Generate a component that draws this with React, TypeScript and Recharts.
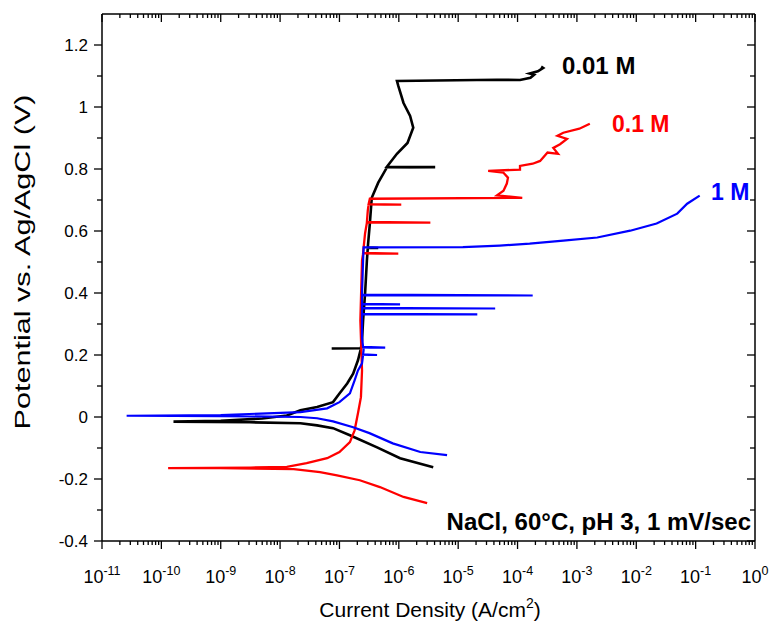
import { LineChart, Line, XAxis, YAxis } from "recharts";

// [current density (A/cm2), potential (V vs Ag/AgCl)]
type Pt = [number, number];

const FONT = "'Liberation Sans', Arial, sans-serif";

const naCl001: Pt[] = [
  [3.8e-6, -0.162], [1.05e-6, -0.133], [4.3e-7, -0.098], [1.5e-7, -0.059],
  [7.8e-8, -0.036], [4.2e-8, -0.027], [2.2e-8, -0.02], [3.1e-9, -0.017],
  [1.6e-10, -0.015], [1.0e-9, -0.012], [5.0e-9, -0.005], [1.3e-8, 0.005],
  [2.2e-8, 0.022], [4.2e-8, 0.032], [7.8e-8, 0.048], [1.0e-7, 0.076],
  [1.35e-7, 0.108], [1.7e-7, 0.14], [2.05e-7, 0.183], [2.3e-7, 0.221],
  [7.4e-8, 0.221], [2.3e-7, 0.222], [2.4e-7, 0.247], [2.5e-7, 0.311],
  [2.7e-7, 0.398], [2.9e-7, 0.505], [3.0e-7, 0.545], [4.5e-7, 0.545],
  [3.0e-7, 0.547], [3.25e-7, 0.624], [3.5e-7, 0.707], [4.5e-7, 0.756],
  [6.3e-7, 0.805], [4.1e-6, 0.806], [6.3e-7, 0.807], [9.3e-7, 0.849],
  [1.4e-6, 0.884], [1.75e-6, 0.933], [1.55e-6, 0.971], [1.2e-6, 1.013],
  [9.8e-7, 1.068], [9.3e-7, 1.084], [4.5e-5, 1.088], [1.1e-4, 1.087],
  [1.65e-4, 1.094], [1.9e-4, 1.104], [1.6e-4, 1.108], [2.2e-4, 1.115],
  [2.7e-4, 1.126], [2.5e-4, 1.13],
];

const naCl01: Pt[] = [
  [3.0e-6, -0.278], [1.2e-6, -0.258], [4.8e-7, -0.226], [2.2e-7, -0.204],
  [9.1e-8, -0.188], [4.7e-8, -0.178], [1.7e-8, -0.168], [9.8e-10, -0.165],
  [1.3e-10, -0.165], [3.2e-9, -0.163], [1.3e-8, -0.161], [2.8e-8, -0.149],
  [6.2e-8, -0.133], [1.0e-7, -0.113], [1.5e-7, -0.081], [1.8e-7, -0.043],
  [2.05e-7, 0.012], [2.3e-7, 0.064], [2.4e-7, 0.15], [2.25e-7, 0.311],
  [2.4e-7, 0.505], [2.5e-7, 0.527], [9.8e-7, 0.527], [2.5e-7, 0.529],
  [2.7e-7, 0.592], [2.9e-7, 0.627], [3.4e-6, 0.627], [2.9e-7, 0.629],
  [3.0e-7, 0.666], [3.1e-7, 0.685], [1.1e-6, 0.685], [3.1e-7, 0.687],
  [3.25e-7, 0.704], [1.2e-4, 0.707], [4.5e-5, 0.715], [5.8e-5, 0.73],
  [6.6e-5, 0.753], [6.9e-5, 0.772], [5.8e-5, 0.788], [3.2e-5, 0.794],
  [1.1e-4, 0.798], [1.1e-4, 0.81], [1.8e-4, 0.817], [2.4e-4, 0.826],
  [3.2e-4, 0.853], [4.8e-4, 0.849], [4.0e-4, 0.868], [5.2e-4, 0.88],
  [6.8e-4, 0.897], [4.7e-4, 0.907], [5.9e-4, 0.917], [1.1e-3, 0.93],
  [1.65e-3, 0.946],
];

const naCl1: Pt[] = [
  [6.5e-6, -0.123], [2.3e-6, -0.113], [7.9e-7, -0.085], [3.2e-7, -0.052],
  [1.7e-7, -0.033], [7.8e-8, -0.014], [4.2e-8, -0.004], [2.2e-8, 0.0],
  [1.0e-9, 0.003], [2.6e-11, 0.004], [1.0e-9, 0.006], [2.2e-8, 0.016],
  [6.2e-8, 0.028], [1.0e-7, 0.048], [1.5e-7, 0.076], [1.8e-7, 0.118],
  [2.05e-7, 0.15], [2.4e-7, 0.173], [2.5e-7, 0.2], [4.3e-7, 0.2],
  [2.5e-7, 0.202], [2.55e-7, 0.215], [2.55e-7, 0.224], [5.9e-7, 0.224],
  [2.5e-7, 0.226], [2.4e-7, 0.257], [2.4e-7, 0.311], [2.4e-7, 0.331],
  [2.1e-5, 0.331], [2.4e-7, 0.333], [2.4e-7, 0.35], [4.2e-5, 0.35],
  [2.4e-7, 0.352], [2.4e-7, 0.363], [1.05e-6, 0.363], [2.4e-7, 0.365],
  [2.4e-7, 0.392], [1.8e-4, 0.392], [2.4e-7, 0.395], [2.4e-7, 0.398],
  [2.5e-7, 0.505], [2.55e-7, 0.547], [1.2e-5, 0.548], [5.0e-5, 0.553],
  [1.6e-4, 0.559], [5.9e-4, 0.569], [2.2e-3, 0.579], [7.9e-3, 0.601],
  [2.2e-2, 0.624], [4.9e-2, 0.656], [7.2e-2, 0.688], [1.17e-1, 0.714],
];

const xMajor = [1e-11, 1e-10, 1e-9, 1e-8, 1e-7, 1e-6, 1e-5, 1e-4, 1e-3, 1e-2, 1e-1, 1];
const xMantissas = [2, 3, 4, 5, 6, 7, 8, 9];
const yMajor = [-0.4, -0.2, 0, 0.2, 0.4, 0.6, 0.8, 1, 1.2];
const yMinor = [-0.3, -0.1, 0.1, 0.3, 0.5, 0.7, 0.9, 1.1];

const xTicks = [
  ...xMajor,
  ...xMajor.slice(0, -1).flatMap((d) => xMantissas.map((m) => m * d)),
].sort((a, b) => a - b);
const yTicks = [...yMajor, ...yMinor].sort((a, b) => a - b);

const toRows = (pts: Pt[]) => pts.map(([x, y]) => ({ x, y }));

const isXMajor = (v: number) => {
  const l = Math.log10(v);
  return Math.abs(l - Math.round(l)) < 1e-6;
};
const isYMajor = (v: number) => yMajor.some((m) => Math.abs(m - v) < 1e-9);

const BottomTick = ({ x, y, payload }: any) => {
  const major = isXMajor(payload.value);
  const exp = Math.round(Math.log10(payload.value));
  return (
    <g>
      <line x1={x} y1={y} x2={x} y2={y + (major ? 8 : 4)} stroke="#000" strokeWidth={1.3} />
      {major && (
        <text x={x} y={y + 42} textAnchor="middle" fontSize={18} fill="#000" fontFamily={FONT}>
          <tspan>10</tspan>
          <tspan dy={-8} fontSize={12.5}>{exp}</tspan>
        </text>
      )}
    </g>
  );
};

const TopTick = ({ x, y, payload }: any) => {
  const major = isXMajor(payload.value);
  return <line x1={x} y1={y} x2={x} y2={y + (major ? 8 : 4)} stroke="#000" strokeWidth={1.3} />;
};

const LeftTick = ({ x, y, payload }: any) => {
  const major = isYMajor(payload.value);
  return (
    <g>
      <line x1={x} y1={y} x2={x - (major ? 8 : 5)} y2={y} stroke="#000" strokeWidth={1.3} />
      {major && (
        <text x={x - 14} y={y + 6} textAnchor="end" fontSize={17} fill="#000" fontFamily={FONT}>
          {String(payload.value)}
        </text>
      )}
    </g>
  );
};

const RightTick = ({ x, y, payload }: any) => {
  const major = isYMajor(payload.value);
  return <line x1={x} y1={y} x2={x - (major ? 8 : 5)} y2={y} stroke="#000" strokeWidth={1.3} />;
};

const axisLine = { stroke: "#000", strokeWidth: 1.5 };

export default function App() {
  return (
    <div style={{ position: "fixed", left: 0, top: 0, width: 780, height: 630, background: "#fff" }}>
      <LineChart width={780} height={630} margin={{ top: 14, right: 25, left: 0, bottom: 0 }}>
        <XAxis
          dataKey="x"
          type="number"
          scale="log"
          domain={[1e-11, 1]}
          allowDataOverflow
          ticks={xTicks}
          interval={0}
          height={89}
          tickSize={0}
          tickMargin={0}
          tickLine={false}
          axisLine={axisLine}
          tick={<BottomTick />}
        />
        <XAxis
          xAxisId="top"
          orientation="top"
          mirror
          dataKey="x"
          type="number"
          scale="log"
          domain={[1e-11, 1]}
          allowDataOverflow
          ticks={xTicks}
          interval={0}
          height={10}
          tickSize={0}
          tickMargin={0}
          tickLine={false}
          axisLine={axisLine}
          tick={<TopTick />}
        />
        <YAxis
          dataKey="y"
          type="number"
          domain={[-0.4, 1.3]}
          allowDataOverflow
          ticks={yTicks}
          interval={0}
          width={102}
          tickSize={0}
          tickMargin={0}
          tickLine={false}
          axisLine={axisLine}
          tick={<LeftTick />}
        />
        <YAxis
          yAxisId="right"
          orientation="right"
          mirror
          dataKey="y"
          type="number"
          domain={[-0.4, 1.3]}
          allowDataOverflow
          ticks={yTicks}
          interval={0}
          width={10}
          tickSize={0}
          tickMargin={0}
          tickLine={false}
          axisLine={axisLine}
          tick={<RightTick />}
        />
        <Line data={toRows(naCl001)} dataKey="y" stroke="#000000" strokeWidth={2.6} dot={false} isAnimationActive={false} />
        <Line data={toRows(naCl01)} dataKey="y" stroke="#ff0000" strokeWidth={2.3} dot={false} isAnimationActive={false} />
        <Line data={toRows(naCl1)} dataKey="y" stroke="#0000ff" strokeWidth={2.2} dot={false} isAnimationActive={false} />
      </LineChart>
      <svg
        width={780}
        height={630}
        style={{ position: "absolute", left: 0, top: 0, pointerEvents: "none" }}
        fontFamily={FONT}
      >
        <text x={430} y={617} textAnchor="middle" fontSize={21} fill="#000">
          Current Density (A/cm<tspan dy={-9} fontSize={14}>2</tspan>
          <tspan dy={9}>)</tspan>
        </text>
        <text
          transform="translate(30, 262) rotate(-90)"
          textAnchor="middle"
          fontSize={22}
          fill="#000"
          textLength={335}
          lengthAdjust="spacingAndGlyphs"
        >
          Potential vs. Ag/AgCl (V)
        </text>
        <text x={562} y={74} fontSize={24} fontWeight="bold" fill="#000">0.01 M</text>
        <text x={612} y={132} fontSize={23} fontWeight="bold" fill="#ff0000">0.1 M</text>
        <text x={711} y={200} fontSize={23} fontWeight="bold" fill="#0000ff">1 M</text>
        <text x={751} y={530} textAnchor="end" fontSize={24} fontWeight="bold" fill="#000">
          NaCl, 60°C, pH 3, 1 mV/sec
        </text>
      </svg>
    </div>
  );
}
